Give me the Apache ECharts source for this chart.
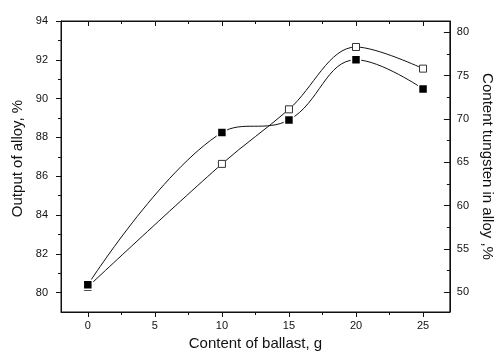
<!DOCTYPE html>
<html>
<head>
<meta charset="utf-8">
<script src="https://cdn.jsdelivr.net/npm/echarts@6/dist/echarts.min.js"></script>
<style>
  html, body { margin: 0; padding: 0; background: #fff; }
  #chart { width: 503px; height: 359px; }
</style>
</head>
<body>
<div id="chart"></div>
<script>
// ballast content, g
const ballast = [0, 10, 15, 20, 25];
// output of alloy, % (filled squares, left axis)
const output = [80.4, 88.25, 88.9, 92.0, 90.5];
// tungsten content in alloy, % (open squares, right axis)
const tungsten = [50.6, 64.8, 71.1, 78.3, 75.8];

const xTicks = [0, 5, 10, 15, 20, 25];
const leftTicks = [80, 82, 84, 86, 88, 90, 92, 94];
const rightTicks = [50, 55, 60, 65, 70, 75, 80];

const font = "'Liberation Sans', Arial, sans-serif";
const black = "#111";

const chart = echarts.init(document.getElementById("chart"), null, { renderer: "canvas" });

const lineAxis = { show: true, onZero: false, lineStyle: { color: black, width: 1 } };
const labelStyle = { color: black, fontFamily: font, fontSize: 11 };

chart.setOption({
  animation: false,
  backgroundColor: "#fff",
  grid: { left: 61, right: 45, top: 21, bottom: 47, containLabel: false, show: true, borderColor: black, borderWidth: 1 },
  xAxis: [
    {
      type: "value",
      min: -2,
      max: 27,
      name: "Content of ballast, g",
      nameLocation: "middle",
      nameGap: 22,
      nameTextStyle: { color: black, fontFamily: font, fontSize: 15 },
      axisLine: lineAxis,
      axisTick: { show: true, length: 5, customValues: xTicks, lineStyle: { color: black } },
      minorTick: { show: true, splitNumber: 2, length: 3, lineStyle: { color: black } },
      axisLabel: { ...labelStyle, margin: 8, customValues: xTicks },
      splitLine: { show: false },
    },
    {
      type: "value",
      position: "top",
      min: -2,
      max: 27,
      axisLine: lineAxis,
      axisTick: { show: true, inside: true, length: 5, customValues: xTicks, lineStyle: { color: black } },
      minorTick: { show: true, splitNumber: 2, length: 3, lineStyle: { color: black } },
      axisLabel: { show: false },
      splitLine: { show: false },
    },
  ],
  yAxis: [
    {
      type: "value",
      min: 79,
      max: 94,
      splitNumber: 7,
      name: "Output of alloy, %",
      nameLocation: "middle",
      nameGap: 34,
      nameTextStyle: { color: black, fontFamily: font, fontSize: 15, padding: [0, 0, 0, 16] },
      axisLine: lineAxis,
      axisTick: { show: true, length: 5, customValues: leftTicks, lineStyle: { color: black } },
      minorTick: { show: true, splitNumber: 2, length: 3, lineStyle: { color: black } },
      axisLabel: { ...labelStyle, margin: 13, customValues: leftTicks },
      splitLine: { show: false },
    },
    {
      type: "value",
      position: "right",
      min: 47.7,
      max: 81.3,
      splitNumber: 5,
      name: "Content tungsten in alloy ,%",
      nameLocation: "middle",
      nameRotate: -90,
      nameGap: 25,
      nameTextStyle: { color: black, fontFamily: font, fontSize: 15 },
      axisLine: lineAxis,
      axisTick: { show: true, inside: true, length: 6, customValues: rightTicks, lineStyle: { color: black } },
      minorTick: { show: true, splitNumber: 2, length: 3, lineStyle: { color: black } },
      axisLabel: { ...labelStyle, margin: 7, customValues: rightTicks },
      splitLine: { show: false },
    },
  ],
  series: [
    {
      name: "tungsten",
      type: "line",
      yAxisIndex: 1,
      data: ballast.map((x, i) => [x, tungsten[i]]),
      smooth: 0.35,
      symbol: "rect",
      symbolSize: 7,
      lineStyle: { color: black, width: 1 },
      itemStyle: { color: "#fff", borderColor: "#333", borderWidth: 1 },
    },
    {
      name: "output",
      type: "line",
      data: ballast.map((x, i) => [x, output[i]]),
      smooth: 0.4,
      symbol: "rect",
      symbolSize: 9,
      lineStyle: { color: black, width: 1 },
      itemStyle: { color: "#000", borderColor: "#fff", borderWidth: 1.5 },
    },
  ],
});
</script>
</body>
</html>
